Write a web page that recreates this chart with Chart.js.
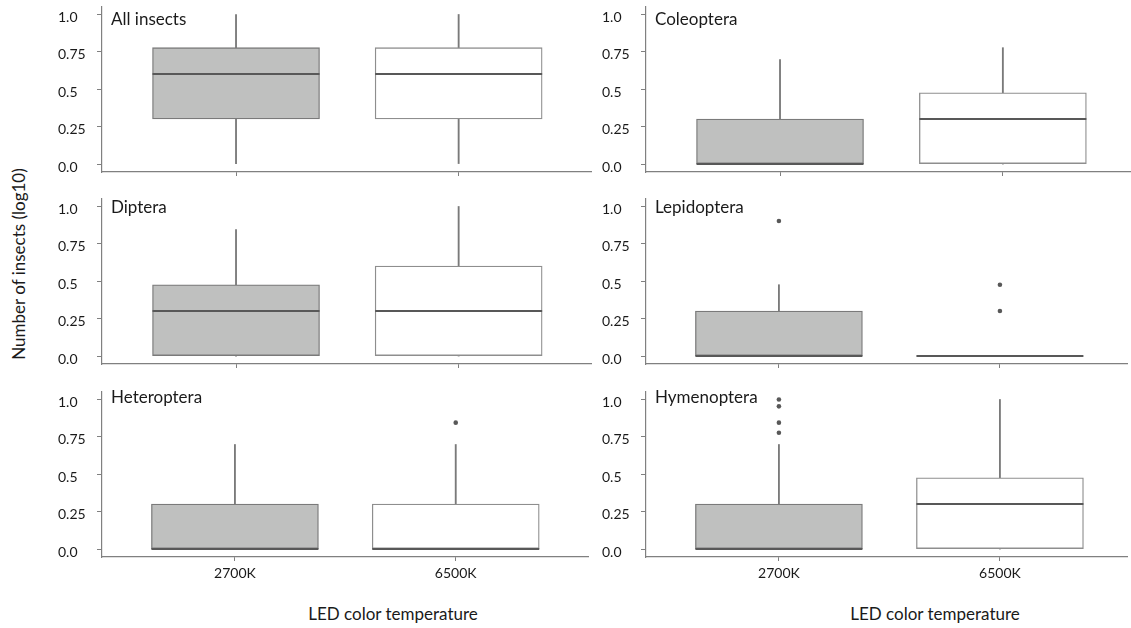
<!DOCTYPE html>
<html>
<head>
<meta charset="utf-8">
<script src="https://cdn.jsdelivr.net/npm/chart.js@4.4.0/dist/chart.umd.min.js"></script>
<style>
body { margin: 0; background: #fff; width: 1131px; height: 628px; position: relative; overflow: hidden; font-family: Lato, sans-serif; color: #1a1a1a; }
canvas { position: absolute; }
.ttl { position: absolute; font-size: 17px; line-height: 17px; white-space: nowrap; }
.axt { position: absolute; width: 300px; text-align: center; font-size: 17px; line-height: 20px; white-space: nowrap; }
</style>
</head>
<body>
<canvas id="c0" width="534" height="185" style="left:58px;top:-3px"></canvas>
<canvas id="c1" width="529" height="185" style="left:602px;top:-3px"></canvas>
<canvas id="c2" width="534" height="185" style="left:58px;top:189px"></canvas>
<canvas id="c3" width="529" height="185" style="left:602px;top:189px"></canvas>
<canvas id="c4" width="534" height="201" style="left:58px;top:382px"></canvas>
<canvas id="c5" width="529" height="201" style="left:602px;top:382px"></canvas>

<div class="ttl" style="left:111px;top:10px">All insects</div>
<div class="ttl" style="left:655px;top:10px">Coleoptera</div>
<div class="ttl" style="left:111px;top:198px">Diptera</div>
<div class="ttl" style="left:655px;top:198px">Lepidoptera</div>
<div class="ttl" style="left:111px;top:388px">Heteroptera</div>
<div class="ttl" style="left:655px;top:388px">Hymenoptera</div>

<div class="axt" style="left:-131px;top:254px;transform:rotate(-90deg)">Number of insects (log10)</div>
<div class="axt" style="left:243px;top:604px">LED color temperature</div>
<div class="axt" style="left:785px;top:604px">LED color temperature</div>

<script>
// categories and tick labels
var groups = ['2700K', '6500K'];
var yTicks = [0, 0.25, 0.5, 0.75, 1.0];
var yTickLabels = ['0.0', '0.25', '0.5', '0.75', '1.0'];

// box stats per group: [whisker low, q1, median, q3, whisker high]  (log10 counts)
var allInsects  = [[0, 0.301, 0.602, 0.778, 1.0], [0, 0.301, 0.602, 0.778, 1.0]];
var coleoptera  = [[0, 0, 0, 0.301, 0.699],       [0, 0, 0.301, 0.477, 0.778]];
var diptera     = [[0, 0, 0.301, 0.477, 0.845],   [0, 0, 0.301, 0.602, 1.0]];
var lepidoptera = [[0, 0, 0, 0.301, 0.477],       [0, 0, 0, 0, 0]];
var heteroptera = [[0, 0, 0, 0.301, 0.699],       [0, 0, 0, 0.301, 0.699]];
var hymenoptera = [[0, 0, 0, 0.301, 0.699],       [0, 0, 0.301, 0.477, 1.0]];

// outliers per group
var allInsectsOut  = [[], []];
var coleopteraOut  = [[], []];
var dipteraOut     = [[], []];
var lepidopteraOut = [[0.903], [0.477, 0.301]];
var heteropteraOut = [[], [0.845]];
var hymenopteraOut = [[1.0, 0.954, 0.845, 0.778], []];

var boxFill = ['#bfc0bf', '#ffffff'];
var boxLine = ['#7a7a7a', '#8e8e8e'];

var medianPlugin = {
  id: 'medians',
  afterDatasetsDraw: function(chart) {
    var meta = chart.getDatasetMeta(0);
    var medians = chart.data.datasets[0].medians;
    var ys = chart.scales.y;
    var ctx = chart.ctx;
    ctx.save();
    ctx.strokeStyle = '#585858';
    ctx.lineWidth = 2;
    meta.data.forEach(function(bar, i) {
      var py = ys.getPixelForValue(medians[i]);
      ctx.beginPath();
      ctx.moveTo(bar.x - bar.width / 2, py);
      ctx.lineTo(bar.x + bar.width / 2, py);
      ctx.stroke();
    });
    ctx.restore();
  }
};

function makePanel(id, stats, outs, col, bottom) {
  var pos = function(i) { return i + 1; };
  var outPts = [];
  outs.forEach(function(list, i) {
    list.forEach(function(v) { outPts.push({x: pos(i), y: v}); });
  });
  var xRange = col === 0 ? [0.398, 2.599] : [0.3986, 2.575];
  var tickFont = {family: 'Lato', size: 14};

  new Chart(document.getElementById(id), {
    type: 'bar',
    data: {
      datasets: [
        {
          data: stats.map(function(s, i) { return {x: pos(i), y: [s[1], s[3]]}; }),
          medians: stats.map(function(s) { return s[2]; }),
          backgroundColor: boxFill,
          borderColor: boxLine,
          borderWidth: 1.3,
          borderSkipped: false,
          barThickness: 167,
          grouped: false
        },
        {
          data: stats.map(function(s, i) { return {x: pos(i), y: [s[3], s[4]]}; }),
          backgroundColor: '#7a7a7a',
          borderWidth: 0,
          barThickness: 1.2,
          grouped: false
        },
        {
          data: stats.map(function(s, i) { return {x: pos(i), y: [s[0], s[1]]}; }),
          backgroundColor: '#7a7a7a',
          borderWidth: 0,
          barThickness: 1.2,
          grouped: false
        },
        {
          type: 'scatter',
          data: outPts,
          pointRadius: 2.3,
          pointBackgroundColor: '#585858',
          pointBorderWidth: 0
        }
      ]
    },
    options: {
      responsive: false,
      animation: false,
      devicePixelRatio: 1,
      layout: {padding: {top: 10, left: 0, right: 0, bottom: 0}},
      plugins: {legend: {display: false}, tooltip: {enabled: false}},
      scales: {
        x: {
          type: 'linear',
          min: xRange[0],
          max: xRange[1],
          offset: false,
          afterBuildTicks: function(s) { s.ticks = groups.map(function(g, i) { return {value: pos(i)}; }); },
          afterFit: function(s) { s.height = bottom ? 26 : 10; },
          grid: {display: true, drawOnChartArea: false, drawTicks: true, tickLength: 4, color: '#808080', offset: false},
          border: {display: true, color: '#808080', width: 1.2},
          ticks: {
            display: bottom, padding: 4, color: '#1a1a1a', font: tickFont, maxRotation: 0,
            callback: function(v) { return groups[Math.round(v) - 1]; }
          }
        },
        y: {
          type: 'linear',
          min: -0.053,
          max: 1.05,
          afterBuildTicks: function(s) { s.ticks = yTicks.map(function(v) { return {value: v}; }); },
          afterFit: function(s) { s.width = 44; },
          grid: {display: true, drawOnChartArea: false, drawTicks: true, tickLength: 5, color: '#808080'},
          border: {display: true, color: '#808080', width: 1.2},
          ticks: {
            crossAlign: 'far', padding: 0, labelOffset: 3, color: '#1a1a1a', font: tickFont,
            callback: function(v, i) { return yTickLabels[i]; }
          }
        }
      }
    },
    plugins: [medianPlugin]
  });
}

makePanel('c0', allInsects, allInsectsOut, 0, false);
makePanel('c1', coleoptera, coleopteraOut, 1, false);
makePanel('c2', diptera, dipteraOut, 0, false);
makePanel('c3', lepidoptera, lepidopteraOut, 1, false);
makePanel('c4', heteroptera, heteropteraOut, 0, true);
makePanel('c5', hymenoptera, hymenopteraOut, 1, true);
</script>
</body>
</html>
